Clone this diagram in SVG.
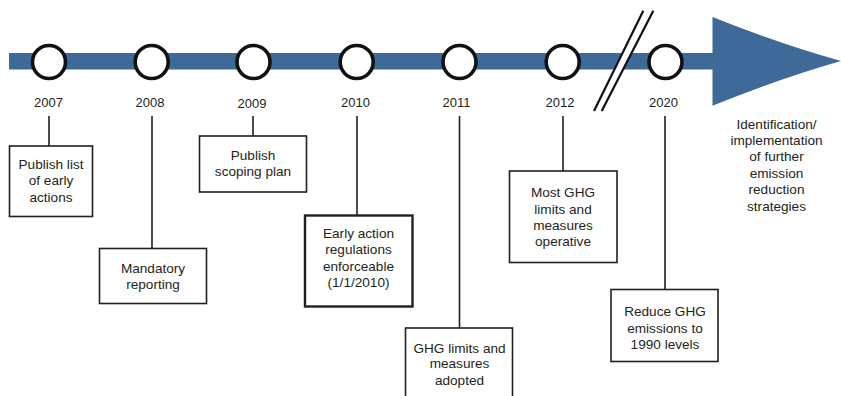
<svg xmlns="http://www.w3.org/2000/svg" width="841" height="396" viewBox="0 0 841 396">
<style>
text{font-family:"Liberation Sans",Arial,sans-serif;font-size:13.6px;fill:#231f20;text-anchor:middle}
.yr{font-size:13px}
.box{fill:#fff;stroke:#231f20;stroke-width:1.6}
.thick{stroke-width:2.4}
.conn{stroke:#231f20;stroke-width:1.6;fill:none}
.dot{fill:#fff;stroke:#111;stroke-width:3.6}
.bar{fill:#3e6a99}
</style>
<rect width="841" height="396" fill="#fff"/>
<g id="timeline">
<rect class="bar" x="9" y="53" width="705" height="16.5"/>
<path class="bar" d="M712.5,17 Q780,44 841,61 Q780,78.4 712.5,105.7 Z"/>
<polygon points="594,111 643.3,10.7 653.3,10.7 601.7,111" fill="#fff"/>
<line x1="594" y1="111" x2="643.3" y2="10.7" stroke="#111" stroke-width="2.2"/>
<line x1="601.7" y1="111" x2="653.3" y2="10.7" stroke="#111" stroke-width="2.2"/>
</g>
<g id="connectors">
<line class="conn" x1="49" y1="116" x2="49" y2="146"/>
<line class="conn" x1="152" y1="116" x2="152" y2="248"/>
<line class="conn" x1="253" y1="116" x2="253" y2="136"/>
<line class="conn" x1="357" y1="116" x2="357" y2="215"/>
<line class="conn" x1="459.5" y1="116" x2="459.5" y2="328"/>
<line class="conn" x1="563" y1="116" x2="563" y2="171"/>
<line class="conn" x1="665" y1="116" x2="665" y2="289"/>
</g>
<g id="y2007"><circle class="dot" cx="49" cy="62" r="16.5"/><text class="yr" x="48.5" y="106.5">2007</text></g>
<g id="y2008"><circle class="dot" cx="151.7" cy="62" r="16.5"/><text class="yr" x="150" y="106.5">2008</text></g>
<g id="y2009"><circle class="dot" cx="253.5" cy="62" r="16.5"/><text class="yr" x="252" y="107.5">2009</text></g>
<g id="y2010"><circle class="dot" cx="356.7" cy="62" r="16.5"/><text class="yr" x="355.5" y="106.5">2010</text></g>
<g id="y2011"><circle class="dot" cx="459.5" cy="62" r="16.5"/><text class="yr" x="456.5" y="106.5">2011</text></g>
<g id="y2012"><circle class="dot" cx="562.7" cy="62" r="16.5"/><text class="yr" x="560" y="106.5">2012</text></g>
<g id="y2020"><circle class="dot" cx="665.5" cy="62" r="16.5"/><text class="yr" x="663.5" y="106.5">2020</text></g>
<g id="n2007"><rect class="box" x="9.5" y="146" width="83" height="70.5"/>
<text x="51" y="168.5">Publish list</text><text x="51" y="185">of early</text><text x="51" y="201.5">actions</text></g>
<g id="n2008"><rect class="box" x="99.5" y="248.5" width="107" height="55"/>
<text x="153" y="272.5">Mandatory</text><text x="153" y="289">reporting</text></g>
<g id="n2009"><rect class="box" x="199.5" y="136" width="107" height="56"/>
<text x="253" y="159.5">Publish</text><text x="253" y="176">scoping plan</text></g>
<g id="n2010"><rect class="box thick" x="305" y="215.5" width="107.5" height="91"/>
<text x="358.5" y="237.5">Early action</text><text x="358.5" y="254">regulations</text><text x="358.5" y="270.5">enforceable</text><text x="358.5" y="287">(1/1/2010)</text></g>
<g id="n2011"><rect class="box" x="405.5" y="328" width="107" height="80"/>
<text x="459.5" y="352.5">GHG limits and</text><text x="459.5" y="368">measures</text><text x="459.5" y="384.5">adopted</text></g>
<g id="n2012"><rect class="box" x="509.5" y="171" width="107.5" height="91.5"/>
<text x="563" y="197">Most GHG</text><text x="563" y="213.5">limits and</text><text x="563" y="229.5">measures</text><text x="563" y="245.5">operative</text></g>
<g id="n2020"><rect class="box" x="611" y="289.5" width="107" height="72"/>
<text x="665" y="316">Reduce GHG</text><text x="665" y="332.5">emissions to</text><text x="665" y="348.5">1990 levels</text></g>
<g id="future">
<text x="776.5" y="128.5">Identification/</text><text x="776.5" y="145">implementation</text><text x="776.5" y="161">of further</text><text x="776.5" y="177.5">emission</text><text x="776.5" y="194">reduction</text><text x="776.5" y="210.5">strategies</text>
</g>
</svg>
